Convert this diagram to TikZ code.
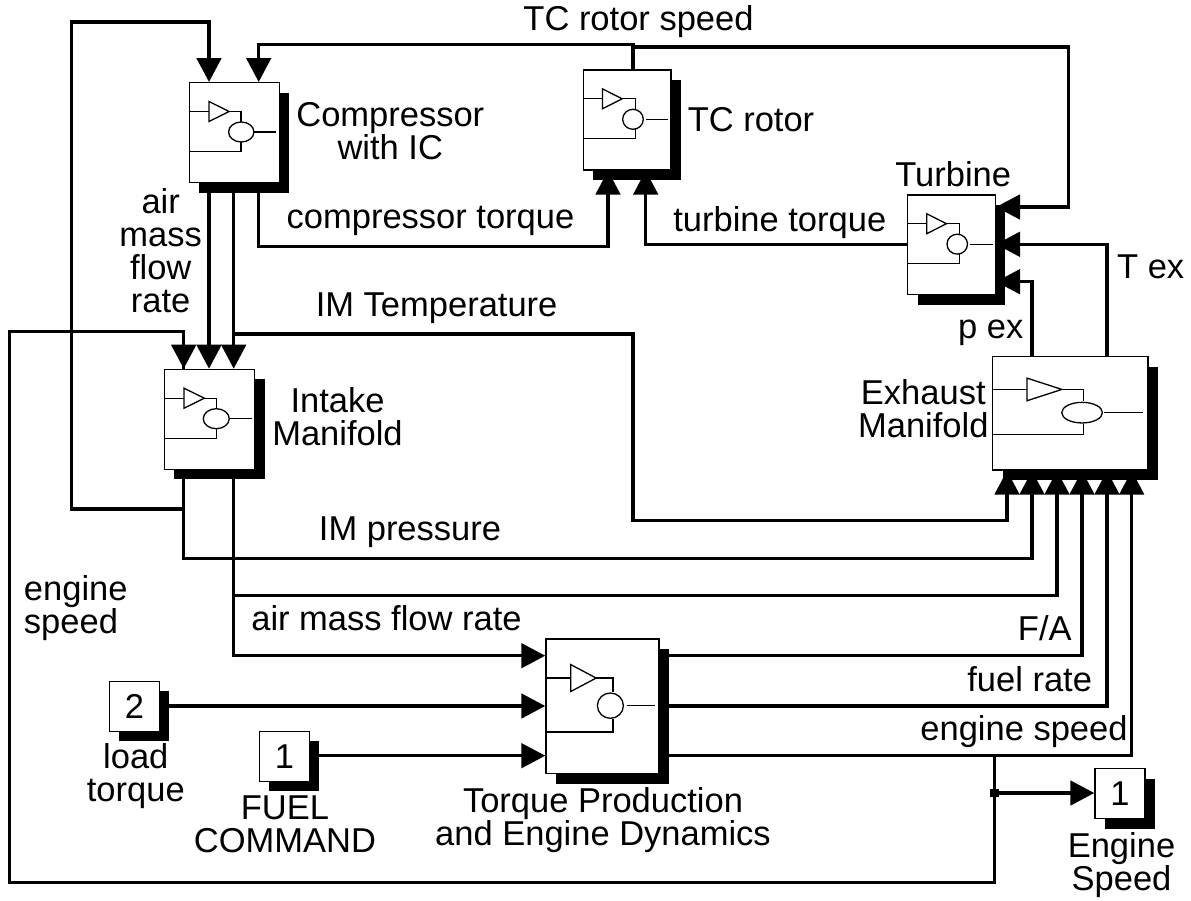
\documentclass[tikz,border=0pt]{standalone}
\usepackage{fontspec}
\setmainfont{Liberation Sans}
\usepackage{tikz}
\usetikzlibrary{arrows.meta, calc, shadows}
\begin{document}
\begin{tikzpicture}[x=1pt, y=-1pt,
  block/.style={draw, fill=white, line width=1.3pt, inner sep=0pt, anchor=north west, drop shadow={shadow xshift=10pt, shadow yshift=-10pt, fill=black, opacity=1}},
  sig/.style={line width=3.3pt},
  arr/.style={sig, -{Triangle[length=24pt, width=24.5pt]}},
  glyph/.style={line width=1.3pt},
  dot/.style={fill=black, inner sep=0pt, minimum size=8.5pt},
  lbl/.style={font=\fontsize{34.5}{33}\selectfont, inner sep=0pt, align=center, anchor=base}]
\useasboundingbox (0,0) rectangle (1191,900);
\foreach \name/\x/\y/\w/\h/\jx/\cx/\rx/\ry in {compressor/188.7/82/90/100/.581/.584/.141/.1,tcrotor/582.7/69.3/87.6/100/.605/.574/.118/.1,turbine/907/194.3/87.7/99.7/.6/.573/.117/.1,exhaust/992/356/155.3/113.3/.59/.58/.131/.091,intake/163.7/368.7/90.3/100/.582/.582/.144/.1,torque/545.3/638.3/113/134.7/.6/.576/.115/.094}
{\node[block, minimum width=\w pt, minimum height=\h pt] (\name) at (\x,\y) {};
 \begin{scope}[shift={(\name.north west)}, x=\w pt, y=-\h pt]
 \draw[glyph] (0,.295) -- (.225,.295) (.45,.295) -| (\jx,.4) (\jx,.6) |- (0,.695) (.72,.5) -- (.975,.5);
 \draw[glyph] (.225,.195) -- (.45,.295) -- (.225,.395) -- cycle;
 \draw[glyph] (\cx,.5) ellipse [x radius=\rx, y radius=\ry];
 \end{scope}}
\foreach \name/\x/\y/\num in {inB/108.7/680.7/2,inA/258.7/730.7/1,outA/1094.3/768/1}
{\node[block, minimum size=50pt, font=\fontsize{34.5}{33}\selectfont] (\name) at (\x,\y) {\num};}
\foreach \name/\base/\dx/\dy in {compInA/compressor.north west/20.3/0,compInB/compressor.north west/70/0,compOutA/compressor.south west/20.3/0,compOutB/compressor.south west/45/0,compOutC/compressor.south west/70/0,
  tcInA/tcrotor.south west/25.3/0,tcInB/tcrotor.south west/63/0,tcOut/tcrotor.north west/50.3/0,
  turbInA/turbine.north east/0/12.7,turbInB/turbine.north east/0/50,turbInC/turbine.north east/0/87.4,turbOut/turbine.north west/0/50,
  exInA/exhaust.south west/15/0,exInB/exhaust.south west/40/0,exInC/exhaust.south west/65/0,exInD/exhaust.south west/90/0,exInE/exhaust.south west/115/0,exInF/exhaust.south west/139.7/0,exOutA/exhaust.north west/40/0,exOutB/exhaust.north west/115/0,
  imInA/intake.north west/20/0,imInB/intake.north west/45.3/0,imInC/intake.north west/70/0,imOutA/intake.south west/20/0,imOutB/intake.south west/70/0,
  tqInA/torque.north west/0/17.4,tqInB/torque.north west/0/67.7,tqInC/torque.north west/0/117.4,tqOutA/torque.north east/0/17.4,tqOutB/torque.north east/0/67.7,tqOutC/torque.north east/0/117.4}
{\coordinate (\name) at ($(\base)+(\dx,\dy)$);}
\coordinate (loopTop) at (71.6,22);
\coordinate (loopJoin) at (183.7,509);
\coordinate (speedTop) at (258.7,44.3);
\coordinate (speedRight) at (1068.7,47);
\coordinate (torqueLow) at (258.7,246.7);
\coordinate (tempMid) at (233.7,334);
\coordinate (tempCorner) at (633,334);
\coordinate (tempLow) at (633,520.7);
\coordinate (pressLow) at (183.7,558.7);
\coordinate (airBranch) at (233.7,595.7);
\coordinate (fbTop) at (9.2,331.7);
\coordinate (fbBottom) at (9.2,882.3);
\node[dot] (tap) at (994.7,793) {};
\draw[arr] (loopJoin) -| (loopTop) -| (compInA);
\draw[arr] (tcOut) |- (speedTop) -- (compInB);
\draw[arr] (tcOut |- speedRight) -- (speedRight) |- (turbInA);
\draw[arr] (compOutC) |- (torqueLow) -| (tcInA);
\draw[arr] (turbOut) -| (tcInB);
\draw[arr] (compOutA) -- (imInB);
\draw[arr] (compOutB) -- (imInC);
\draw[arr] (tempMid) -- (tempCorner) -- (tempLow) -| (exInA);
\draw[arr] (imOutA) |- (pressLow) -| (exInB);
\draw[arr] (imOutB) |- (tqInA);
\draw[arr] (airBranch) -| (exInC);
\draw[arr] (tqOutA) -| (exInD);
\draw[arr] (tqOutB) -| (exInE);
\draw[arr] (tqOutC) -| (exInF);
\draw[arr] (tqInB -| inB.east) -- (tqInB);
\draw[arr] (tqInC -| inA.east) -- (tqInC);
\draw[arr] (exOutA) |- (turbInC);
\draw[arr] (exOutB) |- (turbInB);
\draw[arr] (tap) -- (tap -| outA.west);
\draw[sig] (tqOutC -| tap) -- (tap |- fbBottom) -- (fbBottom) -- (fbTop) -| (imInA);
\draw[arr] (fbTop -| imInA) -- (imInA);
\foreach \x/\y/\txt [count=\i] in {638.5/30/{TC rotor speed},390.3/159.3/{Compressor\\with IC},160.7/312/{air\\mass\\flow\\rate},430.5/228/{compressor torque},436.6/316.7/{IM Temperature},337.5/445.3/{Intake\\Manifold},751/131.7/{TC rotor},953.2/186.7/{Turbine},779.8/231.7/{turbine torque},1150.7/278.3/{T ex},990.7/338.3/{p ex},923.3/437.7/{Exhaust\\Manifold},410/540/{IM pressure},386.5/630/{air mass flow rate},1044.8/640/{F/A},1029.7/691.7/{fuel rate},1024/740/{engine speed},135.8/801.7/{load\\torque},285/852.7/{FUEL\\COMMAND},603/845/{Torque Production\\and Engine Dynamics},1121.5/890/{Engine\\Speed}}
{\node[lbl] (label\i) at (\x,\y) {\txt};}
\node[lbl, align=left] (labelSpeed) at (75.8,633) {engine\\speed};
\end{tikzpicture}
\end{document}
